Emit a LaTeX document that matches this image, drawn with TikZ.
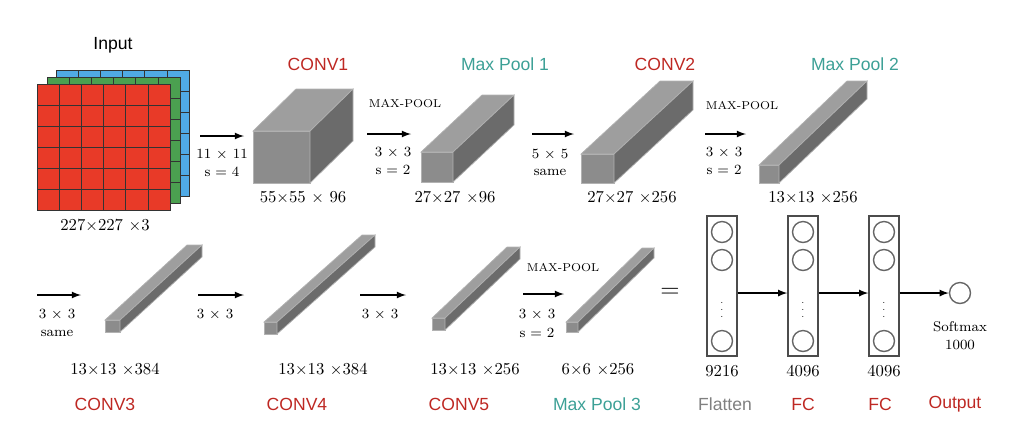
\documentclass[tikz,border=0pt]{standalone}
\usepackage{fontspec}
\newfontfamily\sansf{Liberation Sans}
\definecolor{cblue}{RGB}{80,170,230}
\definecolor{cgreen}{RGB}{75,160,80}
\definecolor{cred}{RGB}{232,58,40}
\definecolor{tred}{RGB}{190,40,35}
\definecolor{tteal}{RGB}{60,160,150}
\begin{document}
\begin{tikzpicture}[x=0.02cm,y=-0.02cm,
  lab/.style={font=\sansf\fontsize{10}{12}\selectfont},
  red/.style={lab,text=tred},
  teal/.style={lab,text=tteal},
  gry/.style={lab,text=gray},
  num/.style={font=\fontsize{9.5}{11}\selectfont},
  sm/.style={font=\fontsize{8}{9}\selectfont},
  mp/.style={font=\fontsize{6.5}{8}\selectfont},
  arr/.style={-latex,thick},
  col/.style={draw=black!70,thick},
  neu/.style={circle,draw=black!60,thick,minimum size=0.42cm,inner sep=0}]
\useasboundingbox (0,0) rectangle (1011,441);
\newcommand\cub[6]{%
 \fill[black!45,draw=black!30] (#1,#2) rectangle ++(#3,#4);
 \fill[black!38,draw=black!30] (#1,#2) -- ++(#5,#6) -- ++(#3,0) -- ++(-#5,-#6) -- cycle;
 \fill[black!58,draw=black!30] (#1+#3,#2) -- ++(#5,#6) -- ++(0,#4) -- ++(-#5,-#6) -- cycle;}
% input
\newcommand\lay[3]{%
 \fill[#3,draw=black!80] (#1,#2) rectangle ++(133,126);
 \foreach \i in {1,...,5}{\draw[black!80] (#1+\i*22.17,#2) -- ++(0,126);
   \draw[black!80] (#1,#2+\i*21) -- ++(133,0);}}
\lay{56}{70}{cblue}
\lay{47}{77}{cgreen}
\lay{37}{84}{cred}
\node[lab] (in) at (113,45) {Input};
\node[num] (d0) at (105,226) {227$\times$227 $\times$3};
% row 1
\cub{253}{131}{57}{52}{43}{-42}
\cub{421}{152}{32}{30}{61}{-57}
\cub{581}{154}{33}{29}{79}{-73}
\cub{759}{165}{20}{18}{88}{-84}
\node[red] (c1) at (318,64) {CONV1};
\node[teal] (p1) at (505,64) {Max Pool 1};
\node[red] (c2) at (665,64) {CONV2};
\node[teal] (p2) at (855,64) {Max Pool 2};
\node[num] at (303,198) {55$\times$55 $\times$ 96};
\node[num] at (455,198) {27$\times$27 $\times$96};
\node[num] at (632,198) {27$\times$27 $\times$256};
\node[num] at (813,198) {13$\times$13 $\times$256};
\coordinate (a1s) at (200,136); \coordinate (a1e) at (244,136);
\draw[arr] (a1s) -- (a1e);
\node[sm] at (222,155) {11 $\times$ 11}; \node[sm] at (222,172) {s = 4};
\coordinate (a2s) at (367,134); \coordinate (a2e) at (411,134);
\draw[arr] (a2s) -- (a2e);
\node[mp] at (405,104) {MAX-POOL};
\node[sm] at (393,153) {3 $\times$ 3}; \node[sm] at (393,170) {s = 2};
\coordinate (a3s) at (532,134); \coordinate (a3e) at (574,134);
\draw[arr] (a3s) -- (a3e);
\node[sm] at (550,155) {5 $\times$ 5}; \node[sm] at (550,172) {same};
\coordinate (a4s) at (705,134); \coordinate (a4e) at (746,134);
\draw[arr] (a4s) -- (a4e);
\node[mp] at (742,106) {MAX-POOL};
\node[sm] at (724,153) {3 $\times$ 3}; \node[sm] at (724,170) {s = 2};
% row 2
\cub{105}{320}{15}{12}{82}{-75}
\cub{264}{322}{13}{12}{98}{-87}
\cub{432}{318}{13}{12}{75}{-71}
\cub{566}{322}{12}{10}{76}{-74}
\coordinate (b1s) at (37,295); \coordinate (b1e) at (81,295);
\draw[arr] (b1s) -- (b1e);
\node[sm] at (57,315) {3 $\times$ 3}; \node[sm] at (57,333) {same};
\coordinate (b2s) at (198,295); \coordinate (b2e) at (244,295);
\draw[arr] (b2s) -- (b2e);
\node[sm] at (215,315) {3 $\times$ 3};
\coordinate (b3s) at (360,295); \coordinate (b3e) at (406,295);
\draw[arr] (b3s) -- (b3e);
\node[sm] at (380,315) {3 $\times$ 3};
\coordinate (b4s) at (523,294); \coordinate (b4e) at (564,294);
\draw[arr] (b4s) -- (b4e);
\node[mp] at (563,268) {MAX-POOL};
\node[sm] at (537,315) {3 $\times$ 3}; \node[sm] at (537,333) {s = 2};
\node[num] at (115,370) {13$\times$13 $\times$384};
\node[num] at (323,370) {13$\times$13 $\times$384};
\node[num] at (475,370) {13$\times$13 $\times$256};
\node[num] at (598,370) {6$\times$6 $\times$256};
\node[red] at (105,404) {CONV3};
\node[red] at (297,404) {CONV4};
\node[red] at (459,404) {CONV5};
\node[teal] at (597,404) {Max Pool 3};
\node[font=\Large] at (670,293) {=};
% fully connected
\foreach \n/\x in {f/722,g/803,h/884}{
  \node[col,minimum width=0.6cm,minimum height=2.8cm,inner sep=0] (\n) at (\x,286) {};
  \node[neu] at (\x,232) {}; \node[neu] at (\x,260) {}; \node[neu] at (\x,341) {};
  \node[font=\tiny,inner sep=0] at (\x,305) {$\vdots$};}
\node[neu] (o) at (960,293) {};
\draw[arr] (f.east |- o) -- (g.west |- o);
\draw[arr] (g.east |- o) -- (h.west |- o);
\draw[arr] (h.east |- o) -- (o);
\node[sm] at (960,327) {Softmax}; \node[sm] at (960,345) {1000};
\node[num] at (722,371) {9216};
\node[num] at (803,371) {4096};
\node[num] at (884,371) {4096};
\node[gry] at (725,404) {Flatten};
\node[red] at (803,404) {FC};
\node[red] at (880,404) {FC};
\node[red] at (955,404) {Output};
\end{tikzpicture}
\end{document}
